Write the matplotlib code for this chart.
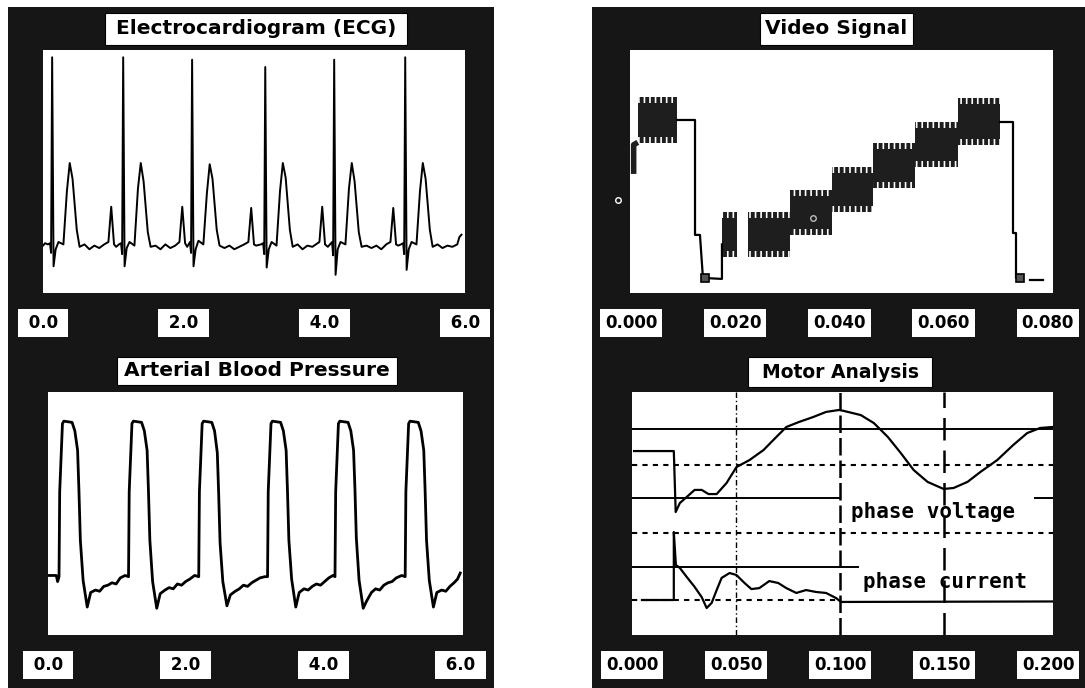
import matplotlib
matplotlib.use('Agg')
import matplotlib.pyplot as plt
from matplotlib.patches import Rectangle

# canvas size in pixels
W, H = 1085, 688
PANEL_BG = '#161616'

plt.rcParams['hatch.linewidth'] = 2.8
plt.rcParams['hatch.color'] = 'black'

# ---------------- ECG (time in s, amplitude in % of plot height) ----------------
ecg_time = [
    0.00, 0.03,
    # beat 1
    0.07, 0.10, 0.115, 0.13, 0.15, 0.18, 0.22, 0.29, 0.34, 0.38, 0.42, 0.48, 0.52, 0.59, 0.66, 0.73, 0.80, 0.87, 0.93, 0.97, 1.01, 1.04,
    # beat 2
    1.08, 1.11, 1.125, 1.14, 1.16, 1.19, 1.23, 1.30, 1.35, 1.39, 1.43, 1.49, 1.53, 1.60, 1.67, 1.74, 1.81, 1.88, 1.94, 1.98, 2.02, 2.05,
    # beat 3
    2.07, 2.09, 2.105, 2.12, 2.14, 2.17, 2.21, 2.28, 2.33, 2.37, 2.41, 2.47, 2.51, 2.58, 2.65, 2.72, 2.79, 2.86, 2.92, 2.96, 3.00, 3.03,
    # beat 4
    3.10, 3.13, 3.145, 3.16, 3.18, 3.21, 3.25, 3.32, 3.37, 3.41, 3.45, 3.51, 3.55, 3.62, 3.69, 3.76, 3.83, 3.88, 3.93, 3.97, 4.01, 4.05,
    # beat 5
    4.08, 4.11, 4.125, 4.14, 4.16, 4.19, 4.23, 4.30, 4.35, 4.39, 4.43, 4.49, 4.53, 4.60, 4.67, 4.74, 4.81, 4.88, 4.94, 4.98, 5.02, 5.05,
    # beat 6
    5.09, 5.12, 5.135, 5.15, 5.17, 5.20, 5.24, 5.31, 5.36, 5.40, 5.44, 5.50, 5.54, 5.61, 5.68, 5.75, 5.82, 5.89, 5.92, 5.95,
]
ecg_level = [
    19.5, 20.5,
    20, 20.5, 16.5, 97, 11, 18, 21, 20, 42, 53.5, 47, 26, 19, 20, 18, 19.5, 18.5, 20, 21, 35.5, 20, 19,
    20, 20.5, 16, 97, 11, 18.5, 21, 19.5, 43, 53.5, 46, 25, 19, 19.5, 18, 20, 18.5, 19.5, 21, 35.5, 20.5, 19,
    20, 21, 16.5, 96, 11, 18, 21.5, 20, 41, 53, 47, 26, 19.5, 18.5, 19.5, 18, 19, 20, 21, 35, 20, 19.5,
    20, 20.5, 16, 93, 10.5, 18, 21, 19.5, 42, 53.5, 47.5, 26, 19, 20, 18, 19.5, 19, 20, 21, 35.5, 20, 19,
    20, 21, 15.5, 96, 7.5, 18, 21, 20, 43, 53.5, 46, 25, 19, 19.5, 18.5, 19.5, 18, 20, 21, 35, 20, 19.5,
    20, 20.5, 16, 97, 9.5, 18, 21, 20, 42, 53.5, 47, 26, 19, 20, 18.5, 19.5, 19, 20, 23, 24,
]
ecg_ticks = [0.0, 2.0, 4.0, 6.0]
ecg_ticklabels = [' 0.0 ', ' 2.0 ', ' 4.0 ', ' 6.0 ']

# ---------------- Arterial blood pressure ----------------
abp_time = [
    0.01, 0.12, 0.14,
    0.16, 0.17, 0.21, 0.23, 0.35, 0.39, 0.43, 0.45, 0.47, 0.51, 0.57, 0.62, 0.69, 0.75, 0.81, 0.87, 0.93, 0.99, 1.05, 1.12,
    1.17, 1.18, 1.22, 1.24, 1.36, 1.40, 1.44, 1.46, 1.48, 1.52, 1.58, 1.63, 1.70, 1.76, 1.82, 1.88, 1.94, 2.00, 2.06, 2.13,
    2.19, 2.20, 2.24, 2.26, 2.38, 2.42, 2.46, 2.48, 2.50, 2.54, 2.60, 2.65, 2.72, 2.78, 2.84, 2.90, 2.96, 3.02, 3.08, 3.15,
    3.19, 3.20, 3.24, 3.26, 3.38, 3.42, 3.46, 3.48, 3.50, 3.54, 3.60, 3.65, 3.72, 3.78, 3.84, 3.90, 3.96, 4.02, 4.08, 4.14,
    4.17, 4.18, 4.22, 4.24, 4.36, 4.40, 4.44, 4.46, 4.48, 4.52, 4.58, 4.63, 4.70, 4.76, 4.82, 4.88, 4.94, 5.00, 5.06, 5.14,
    5.19, 5.20, 5.24, 5.26, 5.38, 5.42, 5.46, 5.48, 5.50, 5.54, 5.60, 5.65, 5.72, 5.78, 5.84, 5.90, 5.95, 5.99,
]
abp_level = [
    24.5, 24.5, 22,
    24, 59, 87, 88, 87.5, 84, 76, 59, 39, 22.5, 11.5, 17.5, 18.5, 18, 20, 20.5, 21.5, 21, 23.5, 24.5,
    24, 59, 87, 88, 87.5, 84, 76, 59, 39, 22, 11, 17, 18.5, 19.5, 19, 21, 20.5, 22, 23, 24.5,
    24, 59, 87, 88, 87.5, 84, 75, 58, 38, 22, 12, 16.5, 18, 19, 20.5, 20, 21.5, 22.5, 23.5, 24,
    24, 59, 87, 88, 87.5, 84, 76, 59, 39, 23, 11.5, 17.5, 19, 18.5, 20, 21, 20.5, 22, 23.5, 24.5,
    24, 59, 87, 88, 87.5, 84, 76, 60, 40, 22.5, 11, 14, 17.5, 19, 18.5, 20.5, 21.5, 22, 23.5, 24.5,
    24, 59, 87, 88, 87.5, 84, 76, 59, 39, 22.5, 11.5, 17.5, 18.5, 18, 20, 21.5, 23, 25.5,
]
abp_ticks = [0.0, 2.0, 4.0, 6.0]
abp_ticklabels = [' 0.0 ', ' 2.0 ', ' 4.0 ', ' 6.0 ']

# ---------------- Video signal (time in s) ----------------
video_lead_t = [0.0005, 0.0005, 0.0013]
video_lead_y = [49.0, 61.0, 62.0]
video_sync_t = [0.0088, 0.01228, 0.01228, 0.01323, 0.0138, 0.01745, 0.01745]
video_sync_y = [71.2, 71.2, 23.9, 23.9, 6.2, 5.8, 20.0]
video_tail_t = [0.07077, 0.07327, 0.07327, 0.07384, 0.07384, 0.0746]
video_tail_y = [70.4, 70.4, 24.7, 24.7, 6.2, 6.2]
video_dash_t = [0.07653, 0.07902]
video_dash_y = [5.3, 5.3]
# oscillation envelopes: white ref, colour burst, six grey steps
video_block_start = [0.00134, 0.01745, 0.02244, 0.03050, 0.03855, 0.04642, 0.05447, 0.06272]
video_block_end = [0.00882, 0.02033, 0.03050, 0.03855, 0.04642, 0.05447, 0.06272, 0.07077]
video_block_low = [61.7, 14.8, 14.8, 23.9, 33.3, 43.2, 51.9, 60.9]
video_block_high = [80.7, 33.3, 33.3, 42.4, 51.9, 61.7, 70.4, 80.2]
video_square_t = [0.0142, 0.0746]
video_square_y = [6.2, 6.2]
video_ticks = [0.0, 0.02, 0.04, 0.06, 0.08]
video_ticklabels = ['0.000', '0.020', '0.040', '0.060', '0.080']

# ---------------- Motor analysis (time in s) ----------------
volt_t = [0.001, 0.0182, 0.0201, 0.0210, 0.0230, 0.0263, 0.0301, 0.0335, 0.0368, 0.0407, 0.0455,
          0.0502, 0.0565, 0.0632, 0.0694, 0.0742, 0.0804, 0.0871, 0.0933, 0.0995, 0.1019, 0.1100,
          0.1163, 0.1230, 0.1292, 0.1354, 0.1421, 0.1498, 0.1546, 0.1613, 0.1675, 0.1756, 0.1833,
          0.1900, 0.1962, 0.2024]
volt_y = [75.7, 75.7, 75.7, 50.6, 54.3, 56.8, 59.7, 59.7, 58.0, 58.0, 62.6,
          69.1, 72.0, 76.1, 81.5, 85.6, 87.7, 89.7, 91.8, 92.6, 92.2, 90.5,
          87.2, 81.5, 74.9, 67.9, 63.0, 60.1, 60.5, 63.0, 67.1, 72.0, 78.2,
          83.1, 85.2, 85.6]
curr_t = [0.0048, 0.0191, 0.0201, 0.0201, 0.0211, 0.0230, 0.0263, 0.0301, 0.0335, 0.0359, 0.0383,
          0.0407, 0.0431, 0.0469, 0.0502, 0.0541, 0.0574, 0.0612, 0.0660, 0.0703, 0.0742, 0.0790,
          0.0837, 0.0885, 0.0933, 0.0981, 0.1005, 0.2024]
curr_y = [14.4, 14.4, 14.4, 42.4, 28.8, 27.6, 23.9, 19.8, 15.6, 11.1, 13.2,
          18.5, 23.5, 25.5, 24.7, 21.4, 18.9, 19.3, 22.2, 21.4, 19.3, 17.3,
          18.5, 17.7, 17.3, 15.2, 13.6, 13.8]
# reference levels (level, from, to)
motor_solid = [(84.8, 0.0, 0.2024), (56.4, 0.0, 0.1005), (56.4, 0.1933, 0.2024), (28.0, 0.0, 0.109)]
motor_dotted = [(70.0, 0.0, 0.2024), (42.0, 0.0, 0.2024), (14.4, 0.0, 0.1005)]
motor_ticks = [0.0, 0.05, 0.10, 0.15, 0.20]
motor_ticklabels = ['0.000', '0.050', '0.100', '0.150', '0.200']

# ---------------- figure ----------------
fig = plt.figure(figsize=(W / 100, H / 100), dpi=100)
fig.patch.set_facecolor('white')


def fig_rect(x0, y0, x1, y1, **kw):
    r = Rectangle((x0 / W, 1 - y1 / H), (x1 - x0) / W, (y1 - y0) / H,
                  transform=fig.transFigure, **kw)
    fig.patches.append(r)
    return r


# black instrument panels
fig_rect(8, 7, 494, 688, facecolor=PANEL_BG, edgecolor='none', zorder=-2)
fig_rect(592, 7, 1085, 688, facecolor=PANEL_BG, edgecolor='none', zorder=-2)


def title_box(x0, y0, x1, y1, text, size=14.5):
    fig_rect(x0, y0, x1, y1, facecolor='white', edgecolor='black', lw=0.8, zorder=1)
    fig.text((x0 + x1) / 2 / W, 1 - (y0 + y1) / 2 / H, text, ha='center', va='center',
             fontsize=size, fontweight='bold', color='black', zorder=2)


def plot_axes(x0, y0, x1, y1, xlim, ticks, labels):
    ax = fig.add_axes([x0 / W, 1 - y1 / H, (x1 - x0) / W, (y1 - y0) / H])
    ax.set_facecolor('white')
    for s in ax.spines.values():
        s.set_visible(False)
    ax.set_xlim(*xlim)
    ax.set_ylim(0, 100)
    ax.set_yticks([])
    ax.set_xticks(ticks)
    ax.set_xticklabels(labels, fontsize=12, fontweight='bold')
    ax.tick_params(axis='x', length=0, pad=15)
    for lab in ax.get_xticklabels():
        lab.set_bbox(dict(boxstyle='square,pad=0.3', facecolor='white', edgecolor='none'))
    return ax


# ECG
title_box(105, 13, 407, 45, 'Electrocardiogram (ECG)')
ax1 = plot_axes(43, 50, 465, 293, (0.0, 6.0), ecg_ticks, ecg_ticklabels)
ax1.plot(ecg_time, ecg_level, color='black', lw=1.4)

# Video
title_box(760, 13, 913, 45, 'Video Signal')
ax2 = plot_axes(630, 50, 1053, 293, (-0.0002, 0.081), video_ticks, video_ticklabels)
for t0, t1, lo, hi in zip(video_block_start, video_block_end, video_block_low, video_block_high):
    edge = 2.6
    ax2.fill_between([t0, t1], lo + edge, hi - edge, color='#1e1e1e', lw=0)
    ax2.fill_between([t0, t1], hi - edge, hi, facecolor='none', edgecolor='#1e1e1e', hatch='|||', lw=0)
    ax2.fill_between([t0, t1], lo, lo + edge, facecolor='none', edgecolor='#1e1e1e', hatch='|||', lw=0)
for tt, yy in [(video_sync_t, video_sync_y), (video_tail_t, video_tail_y), (video_dash_t, video_dash_y)]:
    ax2.plot(tt, yy, color='black', lw=1.6)
ax2.plot(video_lead_t, video_lead_y, color='#1e1e1e', lw=4, solid_capstyle='butt')
ax2.plot(video_square_t, video_square_y, ls='none', marker='s', ms=6,
         mfc='#555555', mec='black', mew=1.2)
ax2.plot([-0.0025], [38.3], ls='none', marker='o', ms=4, mfc='none', mec='white', clip_on=False)
ax2.plot([0.0349], [30.9], ls='none', marker='o', ms=4, mfc='none', mec='#bbbbbb')

# Arterial blood pressure
title_box(117, 357, 397, 385, 'Arterial Blood Pressure')
ax3 = plot_axes(48, 392, 463, 635, (0.015, 6.03), abp_ticks, abp_ticklabels)
ax3.plot(abp_time, abp_level, color='black', lw=2.0)

# Motor analysis
title_box(748, 357, 932, 387, 'Motor Analysis', size=13.5)
ax4 = plot_axes(632, 392, 1053, 635, (0.001, 0.2024), motor_ticks, motor_ticklabels)
for lvl, a, b in motor_solid:
    ax4.hlines(lvl, a, b, color='black', lw=1.4)
for lvl, a, b in motor_dotted:
    ax4.hlines(lvl, a, b, color='black', lw=1.5, linestyles=(0, (2.5, 2.5)))
ax4.axvline(0.05, color='black', lw=1.0, ls=(0, (4, 2, 1, 2)))
ax4.axvline(0.10, color='black', lw=1.8, ls=(0, (7, 2)))
ax4.axvline(0.15, color='black', lw=1.8, ls=(0, (9, 4)))
ax4.plot(volt_t, volt_y, color='black', lw=1.6)
ax4.plot(curr_t, curr_y, color='black', lw=1.6)
ax4.text(0.1053, 50.6, 'phase voltage', family='DejaVu Sans Mono', fontweight='bold',
         fontsize=15, ha='left', va='center')
ax4.text(0.111, 21.8, 'phase current', family='DejaVu Sans Mono', fontweight='bold',
         fontsize=15, ha='left', va='center')

fig.savefig('out.png', dpi=100, facecolor=fig.get_facecolor())
